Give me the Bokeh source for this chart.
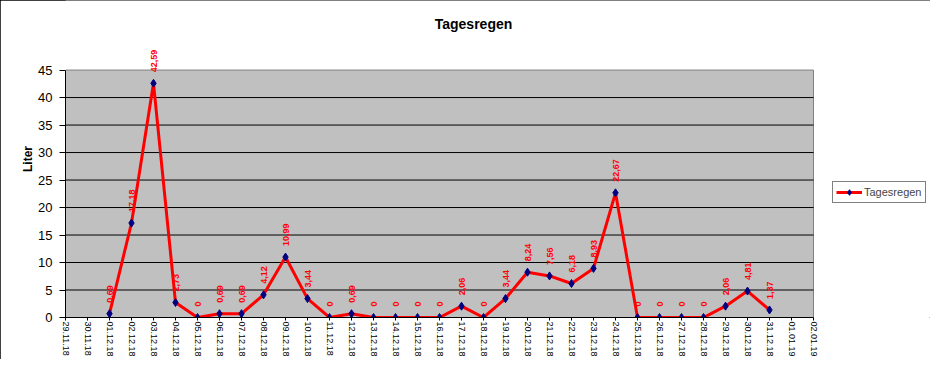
import math
from bokeh.plotting import figure
from bokeh.models import Range1d, FixedTicker, Label, Legend, LegendItem, ColumnDataSource
from bokeh.core.properties import value
from bokeh.embed import file_html
from bokeh.resources import INLINE

dates = ["29.11.18", "30.11.18", "01.12.18", "02.12.18", "03.12.18", "04.12.18", "05.12.18",
         "06.12.18", "07.12.18", "08.12.18", "09.12.18", "10.12.18", "11.12.18", "12.12.18",
         "13.12.18", "14.12.18", "15.12.18", "16.12.18", "17.12.18", "18.12.18", "19.12.18",
         "20.12.18", "21.12.18", "22.12.18", "23.12.18", "24.12.18", "25.12.18", "26.12.18",
         "27.12.18", "28.12.18", "29.12.18", "30.12.18", "31.12.18", "01.01.19", "02.01.19"]
# rain values (None = no data)
rain = [None, None, 0.69, 17.18, 42.59, 2.73, 0, 0.69, 0.69, 4.12, 10.99, 3.44, 0, 0.69,
        0, 0, 0, 0, 2.06, 0, 3.44, 8.24, 7.56, 6.18, 8.93, 22.67, 0, 0, 0, 0, 2.06, 4.81, 1.37,
        None, None]
y_ticks = [0, 5, 10, 15, 20, 25, 30, 35, 40, 45]
title_text = "Tagesregen"
y_label = "Liter"
series_name = "Tagesregen"


def fmt(v):
    if v == 0:
        return "0"
    return f"{v:.2f}".replace(".", ",")


xs = [i for i, v in enumerate(rain) if v is not None]
ys = [v for v in rain if v is not None]
src = ColumnDataSource(dict(x=xs, y=ys, lab=[fmt(v) for v in ys]))

FONT = "Liberation Sans"

# layout (pixels)
W, H = 930, 359
FL, FR = 65, 813          # plot area left / right
PT, PB = 70, 319          # plot area top / bottom
x_max = len(dates) - 1
y_max = max(y_ticks)
y_top = y_max * PB / (PB - PT)            # frame extends to top of canvas
x_end = x_max * (W - FL) / (FR - FL)      # frame extends to right of canvas

p = figure(width=W, height=H, output_backend="svg", toolbar_location=None,
           x_range=Range1d(0, x_end), y_range=Range1d(0, y_top),
           min_border_left=FL, min_border_right=0, min_border_top=0,
           min_border_bottom=H - PB,
           background_fill_color="white", border_fill_color="white",
           outline_line_color=None,
           styles={"outline": "1px solid black", "outline-offset": "-1px"})

# gray plot area
p.quad(left=0, right=x_max, bottom=0, top=y_max,
       fill_color="#C0C0C0", line_color="#808080", line_width=1)

# grid lines (only inside plot area)
p.xgrid.visible = False
p.ygrid.visible = False
gy = y_ticks[1:-1]
p.segment(x0=[0] * len(gy), x1=[x_max] * len(gy), y0=gy, y1=gy,
          line_color="black", line_width=1)

# axes
p.yaxis.ticker = FixedTicker(ticks=y_ticks)
p.yaxis.bounds = (0, y_max)
p.yaxis.axis_line_color = "black"
p.yaxis.major_tick_out = 6
p.yaxis.major_tick_in = 0
p.yaxis.minor_tick_line_color = None
p.yaxis.major_label_text_font = FONT
p.yaxis.major_label_text_font_size = "13px"
p.yaxis.major_label_text_color = "black"
p.yaxis.major_label_standoff = 7
p.yaxis.axis_label = y_label
p.yaxis.axis_label_text_font = FONT
p.yaxis.axis_label_text_font_size = "12px"
p.yaxis.axis_label_text_font_style = "bold"
p.yaxis.axis_label_text_color = "black"
p.yaxis.axis_label_standoff = 0

p.xaxis.ticker = FixedTicker(ticks=list(range(len(dates))))
p.xaxis.bounds = (0, x_max)
p.xaxis.major_label_overrides = {i: d for i, d in enumerate(dates)}
p.xaxis.major_label_orientation = "vertical"
p.xaxis.axis_line_color = "black"
p.xaxis.major_tick_out = 3
p.xaxis.major_tick_in = 0
p.xaxis.minor_tick_line_color = None
p.xaxis.major_label_text_font = FONT
p.xaxis.major_label_text_font_size = "9px"
p.xaxis.major_label_text_color = "black"
p.xaxis.major_label_standoff = 1

# series
r_line = p.line("x", "y", source=src, line_color="#FF0000", line_width=3)
r_pts = p.scatter("x", "y", source=src, marker="diamond", size=8,
                  fill_color="#000080", line_color="#000080")
p.text("x", "y", text="lab", source=src, angle=math.pi / 2,
       text_align="left", text_baseline="middle", y_offset=-11,
       text_color="#FF0000", text_font_size="9px", text_font_style="bold",
       text_font=value(FONT))

# title (centered over the whole chart)
p.add_layout(Label(x=x_max / 2, y=y_top, x_offset=34, y_offset=-23, text=title_text,
                   text_align="center", text_baseline="middle", text_font=FONT,
                   text_font_size="14px", text_font_style="bold", text_color="black"))

legend = Legend(items=[LegendItem(label=series_name, renderers=[r_line, r_pts])],
                location=(832 - FL, PB - 205), border_line_color="black", border_line_width=1,
                background_fill_color="white", background_fill_alpha=1,
                label_text_font=FONT, label_text_font_size="11px",
                label_standoff=2, glyph_width=26, glyph_height=14,
                padding=3, margin=0, spacing=0, label_height=14)
p.add_layout(legend, "center")

open("out.html", "w").write(file_html(p, INLINE))
